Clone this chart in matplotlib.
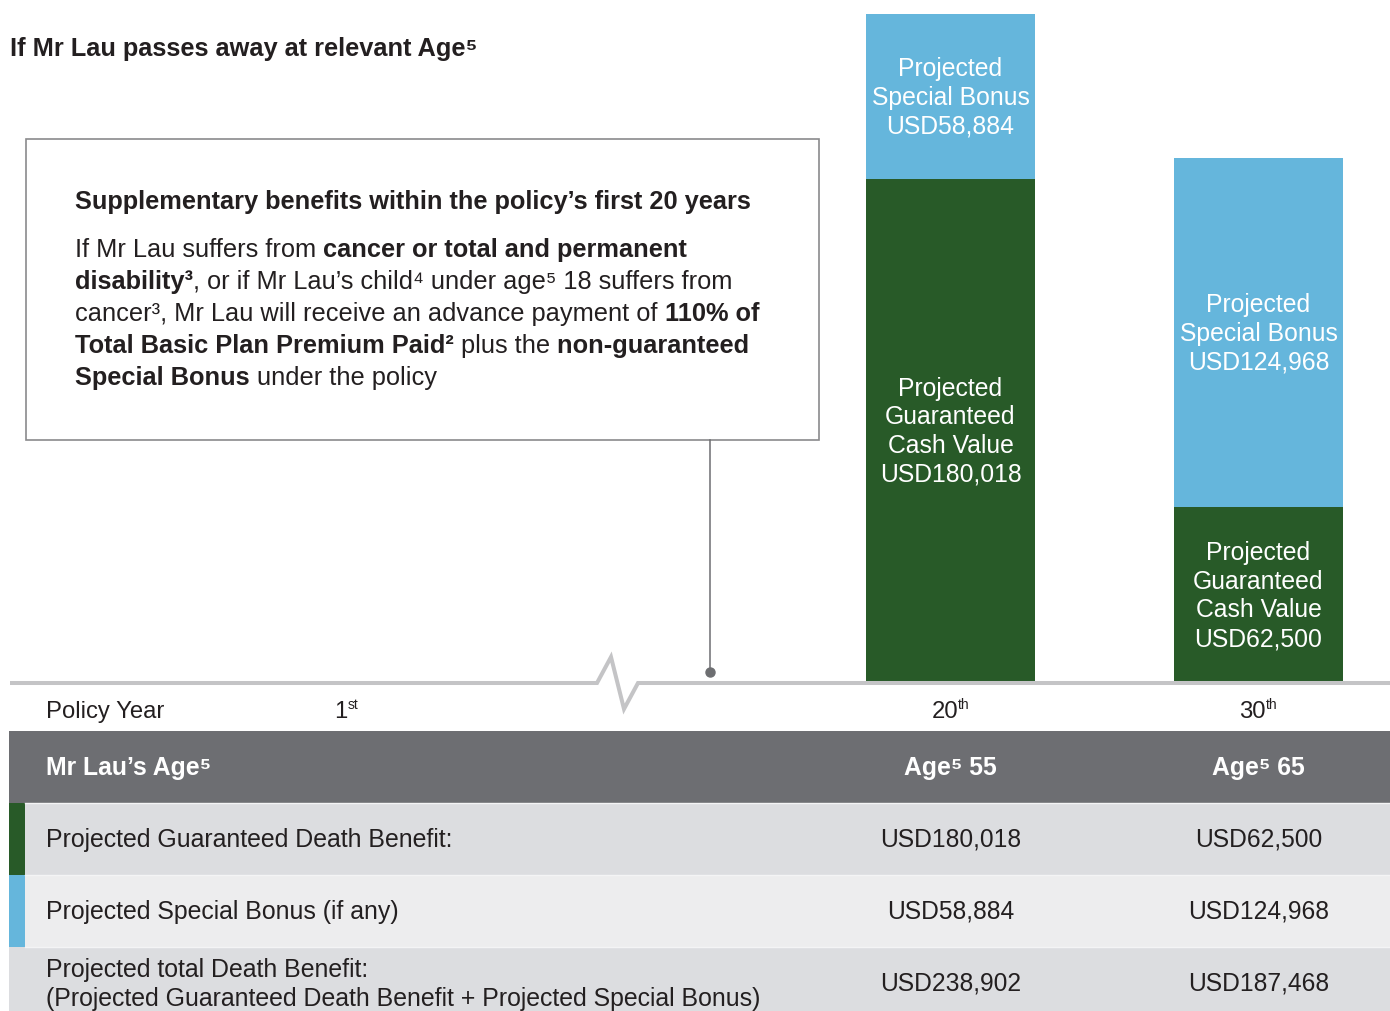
import matplotlib
matplotlib.use('Agg')
import matplotlib.pyplot as plt
from matplotlib.patches import Rectangle

# data
years = ['1', '20', '30']
year_sups = ['st', 'th', 'th']
ages = [55, 65]
guaranteed = [180018, 62500]
bonus = [58884, 124968]
totals = [g + b for g, b in zip(guaranteed, bonus)]
row_labels = ['Projected Guaranteed Death Benefit:',
              'Projected Special Bonus (if any)',
              'Projected total Death Benefit:\n(Projected Guaranteed Death Benefit + Projected Special Bonus)']

title = 'If Mr Lau passes away at relevant Age\u2075'
box_head = 'Supplementary benefits within the policy\u2019s first 20 years'
box_lines = [
    [('If Mr Lau suffers from', 'normal'), (' cancer or total and permanent', 'bold')],
    [('disability\u00b3', 'bold'), (', or if Mr Lau\u2019s child\u2074 under age\u2075 18 suffers from', 'normal')],
    [('cancer\u00b3, Mr Lau will receive an advance payment of', 'normal'), (' 110% of', 'bold')],
    [('Total Basic Plan Premium Paid\u00b2', 'bold'), (' plus the', 'normal'), (' non-guaranteed', 'bold')],
    [('Special Bonus', 'bold'), (' under the policy', 'normal')],
]

GREEN = '#285a28'
BLUE = '#65b6dc'
HEAD = '#6d6e72'
ROW_A = '#dcdde0'
ROW_B = '#ededee'
TXT = '#231f20'
AXIS = '#c4c4c6'
FAM = ['Liberation Sans', 'DejaVu Sans']

W, H = 1390, 1011
fig = plt.figure(figsize=(W / 100, H / 100), dpi=100)
ax = fig.add_axes([0, 0, 1, 1], zorder=2)
ax.set_xlim(0, W)
ax.set_ylim(H, 0)
ax.axis('off')
ax.patch.set_alpha(0)

base, top = 682, 14
col_x = [950.5, 1258.5]
bar_w = 169
bax = fig.add_axes([0, (H - base) / H, 1, (base - top) / H], zorder=1)
bax.set_xlim(0, W)
bax.set_ylim(0, max(totals))
bax.axis('off')
bax.bar(col_x, guaranteed, width=bar_w, color=GREEN, linewidth=0)
bax.bar(col_x, bonus, bottom=guaranteed, width=bar_w, color=BLUE, linewidth=0)

R = fig.canvas.get_renderer()


def put_parts(x, y, parts, size, color):
    for s, w in parts:
        t = ax.text(x, y, s, fontsize=size, fontweight=w, color=color,
                    family=FAM, va='baseline', ha='left')
        x += t.get_window_extent(R).width
    return x


def usd_to_px(x, v):
    disp = bax.transData.transform((x, v))
    return ax.transData.inverted().transform(disp)[1]


def seg_label(x, lo, hi, lines, size=17.8, step=28.7):
    mid = (usd_to_px(x, lo) + usd_to_px(x, hi)) / 2
    n = len(lines)
    for i, s in enumerate(lines):
        y = mid + (i - (n - 1) / 2) * step + 8.5
        ax.text(x, y, s, fontsize=size, color='white', family=FAM,
                ha='center', va='baseline')


for i, x in enumerate(col_x):
    seg_label(x, 0, guaranteed[i],
              ['Projected', 'Guaranteed', 'Cash Value', f'USD{guaranteed[i]:,}'])
    seg_label(x, guaranteed[i], totals[i],
              ['Projected', 'Special Bonus', f'USD{bonus[i]:,}'])

# title
ax.text(10, 56, title, fontsize=18.3, fontweight='bold', color=TXT,
        family=FAM, va='baseline')

# info box + leader
ax.add_patch(Rectangle((26, 139), 793, 301, fill=False, ec='#8a8a8c', lw=1.2))
ax.text(75, 209, box_head, fontsize=18.3, fontweight='bold', color=TXT,
        family=FAM, va='baseline')
for k, parts in enumerate(box_lines):
    put_parts(75, 257 + 32 * k, parts, 18.3, TXT)
ax.plot([710, 710], [440, 672], color='#6d6e71', lw=1.1)
ax.plot(710, 672, 'o', color='#6d6e71', ms=6.5)

# axis line with break
ax.plot([10, 597, 611, 624, 638, W], [683, 683, 657, 709, 683, 683],
        color=AXIS, lw=2.9, solid_joinstyle='miter', solid_capstyle='butt')

# policy year row
ax.text(46, 718, 'Policy Year', fontsize=17.2, color=TXT, family=FAM, va='baseline')
for cx, yr, sp in zip([346] + col_x, years, year_sups):
    t1 = ax.text(0, 718, yr, fontsize=17.2, color=TXT, family=FAM, va='baseline')
    t2 = ax.text(0, 709, sp, fontsize=10, color=TXT, family=FAM, va='baseline')
    w1 = t1.get_window_extent(R).width
    w2 = t2.get_window_extent(R).width
    x0 = cx - (w1 + w2) / 2
    t1.set_x(x0)
    t2.set_x(x0 + w1)

# table
ax.add_patch(Rectangle((9, 731), W - 9, 72, color=HEAD, lw=0))
ax.text(46, 775, 'Mr Lau\u2019s Age\u2075', fontsize=17.8, fontweight='bold',
        color='white', family=FAM, va='baseline')
for cx, a in zip(col_x, ages):
    ax.text(cx, 775, f'Age\u2075 {a}', fontsize=17.8, fontweight='bold',
            color='white', family=FAM, va='baseline', ha='center')

rows = [(803, 72, ROW_A, GREEN, guaranteed),
        (875, 72, ROW_B, BLUE, bonus),
        (947, 64, ROW_A, None, totals)]
for (y0, h, bg, stripe, vals), lab in zip(rows, row_labels):
    ax.add_patch(Rectangle((9, y0), W - 9, h, color=bg, lw=0))
    if stripe:
        ax.add_patch(Rectangle((9, y0), 16, h, color=stripe, lw=0))
    ax.plot([25, W], [y0, y0], color='#f4f4f5', lw=1)
    lines = lab.split('\n')
    if len(lines) == 1:
        ax.text(46, y0 + 44, lab, fontsize=17.9, color=TXT, family=FAM, va='baseline')
    else:
        for j, s in enumerate(lines):
            ax.text(46, y0 + 30 + 29 * j, s, fontsize=17.9, color=TXT,
                    family=FAM, va='baseline')
    for cx, v in zip(col_x, vals):
        ax.text(cx, y0 + 44, f'USD{v:,}', fontsize=17.7, color=TXT, family=FAM,
                va='baseline', ha='center')

fig.savefig('out.png', dpi=100)
